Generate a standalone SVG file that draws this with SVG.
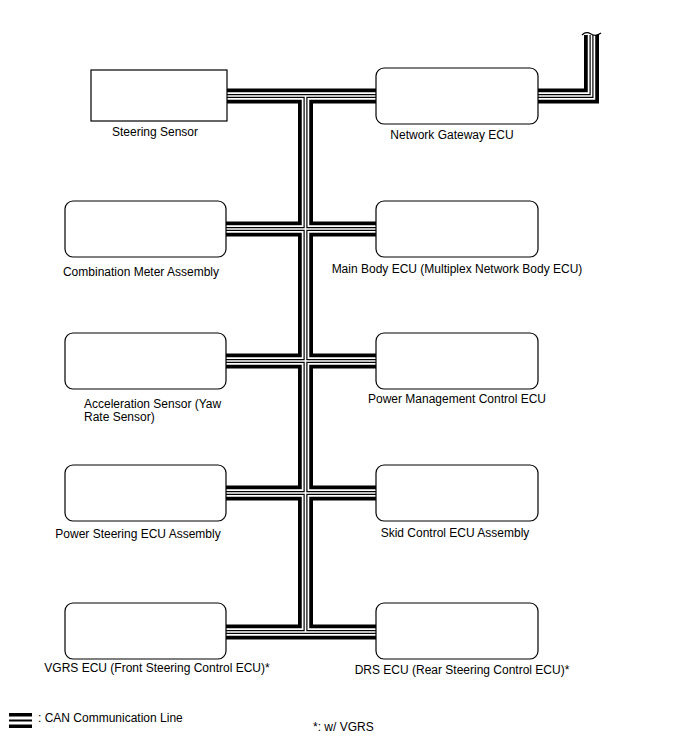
<svg xmlns="http://www.w3.org/2000/svg" width="688" height="755" viewBox="0 0 688 755">
<style>
.box{fill:#fff;stroke:#000;stroke-width:1.2}
.t{font-family:"Liberation Sans",Arial,sans-serif;font-size:12px;fill:#000}
.c{text-anchor:middle}
.b1{fill:none;stroke:#000;stroke-width:15}
.b2{fill:none;stroke:#fff;stroke-width:7.5}
.b3{fill:none;stroke:#000;stroke-width:4}
.b4{fill:none;stroke:#fff;stroke-width:1.6}
</style>
<rect width="688" height="755" fill="#fff"/>
<g id="connectors">
<defs>
<path id="bus" d="M226,96 H376 M305.5,96 V632 M226,229 H376 M226,361 H376 M226,493 H376 M226,632 H376 M538,96 H591.5 V35"/>
</defs>
<use href="#bus" class="b1"/>
<use href="#bus" class="b2"/>
<use href="#bus" class="b3"/>
<use href="#bus" class="b4"/>
<path d="M582,35 q4,-4 9,-1 q5,3 10,-1" fill="none" stroke="#000" stroke-width="1.2"/>
</g>
<g id="steering-sensor"><rect class="box" x="91" y="70" width="136" height="51"/><text class="t c" x="155" y="136">Steering Sensor</text></g>
<g id="network-gateway-ecu"><rect class="box" x="376" y="68" width="162" height="56" rx="8"/><text class="t c" x="452" y="139">Network Gateway ECU</text></g>
<g id="combination-meter"><rect class="box" x="65" y="201" width="161" height="56" rx="8"/><text class="t c" x="141" y="276">Combination Meter Assembly</text></g>
<g id="main-body-ecu"><rect class="box" x="376" y="201" width="162" height="56" rx="8"/><text class="t c" x="457" y="273">Main Body ECU (Multiplex Network Body ECU)</text></g>
<g id="acceleration-sensor"><rect class="box" x="65" y="333" width="161" height="56" rx="8"/><text class="t" x="84" y="408">Acceleration Sensor (Yaw</text><text class="t" x="84" y="421">Rate Sensor)</text></g>
<g id="power-management-ecu"><rect class="box" x="376" y="333" width="162" height="56" rx="8"/><text class="t c" x="457" y="403">Power Management Control ECU</text></g>
<g id="power-steering-ecu"><rect class="box" x="65" y="465" width="161" height="56" rx="8"/><text class="t c" x="138" y="538">Power Steering ECU Assembly</text></g>
<g id="skid-control-ecu"><rect class="box" x="376" y="465" width="162" height="56" rx="8"/><text class="t c" x="455" y="537">Skid Control ECU Assembly</text></g>
<g id="vgrs-ecu"><rect class="box" x="65" y="603" width="161" height="56" rx="8"/><text class="t c" x="157" y="672">VGRS ECU (Front Steering Control ECU)*</text></g>
<g id="drs-ecu"><rect class="box" x="376" y="603" width="162" height="56" rx="8"/><text class="t c" x="462" y="674">DRS ECU (Rear Steering Control ECU)*</text></g>
<g id="legend">
<rect x="9" y="713" width="23" height="3.5" fill="#000"/>
<rect x="9" y="719.5" width="23" height="2" fill="#000"/>
<rect x="9" y="724.5" width="23" height="3.5" fill="#000"/>
<text class="t" x="38" y="722">: CAN Communication Line</text>
<text class="t" x="313" y="731">*: w/ VGRS</text>
</g>
</svg>
